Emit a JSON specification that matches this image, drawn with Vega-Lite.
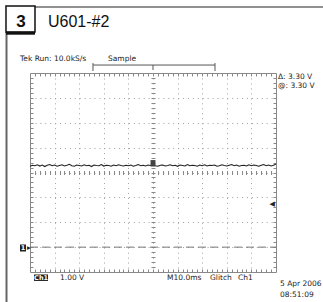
{
  "$schema": "https://vega.github.io/schema/vega-lite/v6.json",
  "width": 246,
  "height": 199,
  "autosize": "none",
  "padding": {"left": 30, "top": 73, "right": 47, "bottom": 30},
  "background": "white",
  "config": {
    "view": {"stroke": "#888", "strokeWidth": 1},
    "axis": {"title": null, "labels": false, "domain": false, "ticks": false, "grid": false},
    "text": {"font": "DejaVu Sans"}
  },
  "resolve": {"axis": {"x": "independent", "y": "independent"}},
  "datasets": {
    "trace": [
      {"t":-50,"v":3.25},{"t":-49,"v":3.29},{"t":-48,"v":3.27},{"t":-47,"v":3.31},{"t":-46,"v":3.26},{"t":-45,"v":3.30},{"t":-44,"v":3.24},{"t":-43,"v":3.29},{"t":-42,"v":3.32},{"t":-41,"v":3.27},
      {"t":-40,"v":3.30},{"t":-39,"v":3.25},{"t":-38,"v":3.28},{"t":-37,"v":3.31},{"t":-36,"v":3.26},{"t":-35,"v":3.29},{"t":-34,"v":3.33},{"t":-33,"v":3.27},{"t":-32,"v":3.25},{"t":-31,"v":3.30},
      {"t":-30,"v":3.28},{"t":-29,"v":3.26},{"t":-28,"v":3.31},{"t":-27,"v":3.27},{"t":-26,"v":3.29},{"t":-25,"v":3.24},{"t":-24,"v":3.30},{"t":-23,"v":3.28},{"t":-22,"v":3.27},{"t":-21,"v":3.32},
      {"t":-20,"v":3.26},{"t":-19,"v":3.29},{"t":-18,"v":3.28},{"t":-17,"v":3.25},{"t":-16,"v":3.30},{"t":-15,"v":3.27},{"t":-14,"v":3.31},{"t":-13,"v":3.28},{"t":-12,"v":3.26},{"t":-11,"v":3.29},
      {"t":-10,"v":3.27},{"t":-9,"v":3.30},{"t":-8,"v":3.25},{"t":-7,"v":3.28},{"t":-6,"v":3.32},{"t":-5,"v":3.27},{"t":-4,"v":3.29},{"t":-3,"v":3.26},{"t":-2,"v":3.30},{"t":-1,"v":3.28},
      {"t":0,"v":3.31},{"t":1,"v":3.27},{"t":2,"v":3.25},{"t":3,"v":3.29},{"t":4,"v":3.30},{"t":5,"v":3.26},{"t":6,"v":3.28},{"t":7,"v":3.31},{"t":8,"v":3.27},{"t":9,"v":3.29},
      {"t":10,"v":3.25},{"t":11,"v":3.30},{"t":12,"v":3.28},{"t":13,"v":3.26},{"t":14,"v":3.32},{"t":15,"v":3.27},{"t":16,"v":3.29},{"t":17,"v":3.28},{"t":18,"v":3.25},{"t":19,"v":3.30},
      {"t":20,"v":3.27},{"t":21,"v":3.31},{"t":22,"v":3.26},{"t":23,"v":3.29},{"t":24,"v":3.28},{"t":25,"v":3.30},{"t":26,"v":3.25},{"t":27,"v":3.27},{"t":28,"v":3.31},{"t":29,"v":3.28},
      {"t":30,"v":3.26},{"t":31,"v":3.29},{"t":32,"v":3.32},{"t":33,"v":3.27},{"t":34,"v":3.30},{"t":35,"v":3.25},{"t":36,"v":3.28},{"t":37,"v":3.29},{"t":38,"v":3.26},{"t":39,"v":3.31},
      {"t":40,"v":3.27},{"t":41,"v":3.30},{"t":42,"v":3.28},{"t":43,"v":3.25},{"t":44,"v":3.29},{"t":45,"v":3.32},{"t":46,"v":3.27},{"t":47,"v":3.30},{"t":48,"v":3.26},{"t":49,"v":3.29},{"t":50,"v":3.34}
    ],
    "cursor": [{"t":-50,"t2":50,"v":0}],
    "trig": [{"t":48.4,"v":1.73,"label":"◀"}],
    "tmark": [{"t":-1.0,"t2":1.0,"v":3.50,"v2":3.24}],
    "topline": [{"t":-47.97,"t2":69.5,"v":9.653,"v2":9.653}],
    "leftline": [{"t":-59.55,"t2":-59.55,"v":8.648,"v2":-2.4}],
    "bracket": [
      {"t":-24.4,"t2":25.2,"v":7.32,"v2":7.32},
      {"t":-24.4,"t2":-24.4,"v":7.40,"v2":7.08},
      {"t":25.2,"t2":25.2,"v":7.40,"v2":7.08},
      {"t":0,"t2":0,"v":7.32,"v2":7.12}
    ],
    "box": [{"t":-59.76,"t2":-47.97,"v":9.693,"v2":8.648}],
    "shadow": [{"t":-59.76,"t2":-47.97,"v":8.60,"v2":8.60}],
    "invbg": [
      {"t":-48.37,"t2":-42.68,"v":-1.10,"v2":-1.36},
      {"t":-54.07,"t2":-51.63,"v":0.106,"v2":-0.176}
    ],
    "invtext": [
      {"t":-45.5,"v":-1.235,"label":"Ch1"},
      {"t":-52.85,"v":-0.04,"label":"1"}
    ],
    "scopetext": [
      {"t":-54.07,"v":7.543,"label":"Tek Run: 10.0kS/s"},
      {"t":-18.29,"v":7.543,"label":"Sample"},
      {"t":50.81,"v":6.82,"label":"Δ: 3.30 V"},
      {"t":50.81,"v":6.49,"label":"@: 3.30 V"},
      {"t":-37.8,"v":-1.23,"label":"1.00 V"},
      {"t":5.69,"v":-1.23,"label":"M10.0ms"},
      {"t":23.17,"v":-1.23,"label":"Glitch"},
      {"t":34.55,"v":-1.23,"label":"Ch1"},
      {"t":51.63,"v":-1.50,"label":"5 Apr 2006"},
      {"t":51.63,"v":-1.94,"label":"08:51:09"},
      {"t":-51.2,"v":-0.03,"label":"▸"}
    ],
    "title": [{"t":-42.68,"v":8.85,"label":"U601-#2"}],
    "num": [{"t":-53.66,"v":8.85,"label":"3"}]
  },
  "layer": [
    {
      "data": {"name": "trace"},
      "mark": {"type": "line", "color": "#222", "strokeWidth": 1.1, "interpolate": "linear"},
      "encoding": {
        "x": {"field": "t", "type": "quantitative", "scale": {"domain": [-50, 50], "nice": false, "zero": false},
              "axis": {"orient": "bottom", "grid": true, "values": [-40,-30,-20,-10,0,10,20,30,40], "gridDash": [1, 3.975], "gridColor": "#a0a0a0", "gridWidth": 1, "gridOpacity": 1}},
        "y": {"field": "v", "type": "quantitative", "scale": {"domain": [-1, 7], "nice": false, "zero": false},
              "axis": {"orient": "left", "grid": true, "values": [0,1,2,3,4,5,6], "gridDash": [1, 3.92], "gridColor": "#a0a0a0", "gridWidth": 1, "gridOpacity": 1}}
      }
    },
    {
      "data": {"name": "cursor"},
      "mark": {"type": "rule", "color": "#777", "strokeWidth": 1, "strokeDash": [8, 4]},
      "encoding": {
        "x": {"field": "t", "type": "quantitative", "scale": {"domain": [-50, 50], "nice": false, "zero": false},
              "axis": {"orient": "bottom", "ticks": true, "offset": -3, "tickSize": 3, "tickColor": "#888",
                       "values": [-48,-46,-44,-42,-40,-38,-36,-34,-32,-30,-28,-26,-24,-22,-20,-18,-16,-14,-12,-10,-8,-6,-4,-2,0,2,4,6,8,10,12,14,16,18,20,22,24,26,28,30,32,34,36,38,40,42,44,46,48]}},
        "x2": {"field": "t2"},
        "y": {"field": "v", "type": "quantitative", "scale": {"domain": [-1, 7], "nice": false, "zero": false},
              "axis": {"orient": "left", "ticks": true, "offset": -3, "tickSize": 3, "tickColor": "#888",
                       "values": [-0.8,-0.6,-0.4,-0.2,0,0.2,0.4,0.6,0.8,1,1.2,1.4,1.6,1.8,2,2.2,2.4,2.6,2.8,3,3.2,3.4,3.6,3.8,4,4.2,4.4,4.6,4.8,5,5.2,5.4,5.6,5.8,6,6.2,6.4,6.6,6.8]}}
      }
    },
    {
      "data": {"name": "trig"},
      "mark": {"type": "text", "color": "#222", "fontSize": 7, "align": "center", "baseline": "middle"},
      "encoding": {
        "x": {"field": "t", "type": "quantitative", "scale": {"domain": [-50, 50], "nice": false, "zero": false},
              "axis": {"orient": "top", "ticks": true, "offset": -3, "tickSize": 3, "tickColor": "#888",
                       "values": [-48,-46,-44,-42,-40,-38,-36,-34,-32,-30,-28,-26,-24,-22,-20,-18,-16,-14,-12,-10,-8,-6,-4,-2,0,2,4,6,8,10,12,14,16,18,20,22,24,26,28,30,32,34,36,38,40,42,44,46,48]}},
        "y": {"field": "v", "type": "quantitative", "scale": {"domain": [-1, 7], "nice": false, "zero": false},
              "axis": {"orient": "right", "ticks": true, "offset": -3, "tickSize": 3, "tickColor": "#888",
                       "values": [-0.8,-0.6,-0.4,-0.2,0,0.2,0.4,0.6,0.8,1,1.2,1.4,1.6,1.8,2,2.2,2.4,2.6,2.8,3,3.2,3.4,3.6,3.8,4,4.2,4.4,4.6,4.8,5,5.2,5.4,5.6,5.8,6,6.2,6.4,6.6,6.8]}},
        "text": {"field": "label"}
      }
    },
    {
      "data": {"name": "tmark"},
      "mark": {"type": "rect", "color": "#444"},
      "encoding": {
        "x": {"field": "t", "type": "quantitative", "scale": {"domain": [-50, 50], "nice": false, "zero": false},
              "axis": {"orient": "bottom", "ticks": true, "offset": -101.5, "tickSize": 4, "tickColor": "#888",
                       "values": [-48,-46,-44,-42,-40,-38,-36,-34,-32,-30,-28,-26,-24,-22,-20,-18,-16,-14,-12,-10,-8,-6,-4,-2,0,2,4,6,8,10,12,14,16,18,20,22,24,26,28,30,32,34,36,38,40,42,44,46,48]}},
        "x2": {"field": "t2"},
        "y": {"field": "v", "type": "quantitative", "scale": {"domain": [-1, 7], "nice": false, "zero": false},
              "axis": {"orient": "left", "ticks": true, "offset": -125, "tickSize": 4, "tickColor": "#888",
                       "values": [-0.8,-0.6,-0.4,-0.2,0,0.2,0.4,0.6,0.8,1,1.2,1.4,1.6,1.8,2,2.2,2.4,2.6,2.8,3,3.2,3.4,3.6,3.8,4,4.2,4.4,4.6,4.8,5,5.2,5.4,5.6,5.8,6,6.2,6.4,6.6,6.8]}},
        "y2": {"field": "v2"}
      }
    },
    {
      "data": {"name": "topline"},
      "mark": {"type": "rule", "color": "#222", "strokeWidth": 1},
      "encoding": {
        "x": {"field": "t", "type": "quantitative", "scale": {"domain": [-50, 50], "nice": false, "zero": false}, "axis": null},
        "x2": {"field": "t2"},
        "y": {"field": "v", "type": "quantitative", "scale": {"domain": [-1, 7], "nice": false, "zero": false}, "axis": null},
        "y2": {"field": "v2"}
      }
    },
    {
      "data": {"name": "leftline"},
      "mark": {"type": "rule", "color": "#666", "strokeWidth": 2},
      "encoding": {
        "x": {"field": "t", "type": "quantitative", "scale": {"domain": [-50, 50], "nice": false, "zero": false}, "axis": null},
        "x2": {"field": "t2"},
        "y": {"field": "v", "type": "quantitative", "scale": {"domain": [-1, 7], "nice": false, "zero": false}, "axis": null},
        "y2": {"field": "v2"}
      }
    },
    {
      "data": {"name": "bracket"},
      "mark": {"type": "rule", "color": "#555", "strokeWidth": 1},
      "encoding": {
        "x": {"field": "t", "type": "quantitative", "scale": {"domain": [-50, 50], "nice": false, "zero": false}, "axis": null},
        "x2": {"field": "t2"},
        "y": {"field": "v", "type": "quantitative", "scale": {"domain": [-1, 7], "nice": false, "zero": false}, "axis": null},
        "y2": {"field": "v2"}
      }
    },
    {
      "data": {"name": "box"},
      "mark": {"type": "rect", "fill": "white", "stroke": "#111", "strokeWidth": 1.5},
      "encoding": {
        "x": {"field": "t", "type": "quantitative", "scale": {"domain": [-50, 50], "nice": false, "zero": false}, "axis": null},
        "x2": {"field": "t2"},
        "y": {"field": "v", "type": "quantitative", "scale": {"domain": [-1, 7], "nice": false, "zero": false}, "axis": null},
        "y2": {"field": "v2"}
      }
    },
    {
      "data": {"name": "shadow"},
      "mark": {"type": "rule", "color": "#111", "strokeWidth": 3},
      "encoding": {
        "x": {"field": "t", "type": "quantitative", "scale": {"domain": [-50, 50], "nice": false, "zero": false}, "axis": null},
        "x2": {"field": "t2"},
        "y": {"field": "v", "type": "quantitative", "scale": {"domain": [-1, 7], "nice": false, "zero": false}, "axis": null}
      }
    },
    {
      "data": {"name": "invbg"},
      "mark": {"type": "rect", "color": "#222"},
      "encoding": {
        "x": {"field": "t", "type": "quantitative", "scale": {"domain": [-50, 50], "nice": false, "zero": false}, "axis": null},
        "x2": {"field": "t2"},
        "y": {"field": "v", "type": "quantitative", "scale": {"domain": [-1, 7], "nice": false, "zero": false}, "axis": null},
        "y2": {"field": "v2"}
      }
    },
    {
      "data": {"name": "invtext"},
      "mark": {"type": "text", "color": "white", "fontSize": 6.5, "fontWeight": "bold", "align": "center", "baseline": "middle"},
      "encoding": {
        "x": {"field": "t", "type": "quantitative", "scale": {"domain": [-50, 50], "nice": false, "zero": false}, "axis": null},
        "y": {"field": "v", "type": "quantitative", "scale": {"domain": [-1, 7], "nice": false, "zero": false}, "axis": null},
        "text": {"field": "label"}
      }
    },
    {
      "data": {"name": "scopetext"},
      "mark": {"type": "text", "color": "#222", "fontSize": 7.5, "align": "left", "baseline": "middle"},
      "encoding": {
        "x": {"field": "t", "type": "quantitative", "scale": {"domain": [-50, 50], "nice": false, "zero": false}, "axis": null},
        "y": {"field": "v", "type": "quantitative", "scale": {"domain": [-1, 7], "nice": false, "zero": false}, "axis": null},
        "text": {"field": "label"}
      }
    },
    {
      "data": {"name": "title"},
      "mark": {"type": "text", "font": "Liberation Sans", "color": "#111", "fontSize": 16, "align": "left", "baseline": "alphabetic"},
      "encoding": {
        "x": {"field": "t", "type": "quantitative", "scale": {"domain": [-50, 50], "nice": false, "zero": false}, "axis": null},
        "y": {"field": "v", "type": "quantitative", "scale": {"domain": [-1, 7], "nice": false, "zero": false}, "axis": null},
        "text": {"field": "label"}
      }
    },
    {
      "data": {"name": "num"},
      "mark": {"type": "text", "font": "Liberation Sans", "color": "#111", "fontSize": 17, "fontWeight": "bold", "align": "center", "baseline": "alphabetic"},
      "encoding": {
        "x": {"field": "t", "type": "quantitative", "scale": {"domain": [-50, 50], "nice": false, "zero": false}, "axis": null},
        "y": {"field": "v", "type": "quantitative", "scale": {"domain": [-1, 7], "nice": false, "zero": false}, "axis": null},
        "text": {"field": "label"}
      }
    }
  ]
}
